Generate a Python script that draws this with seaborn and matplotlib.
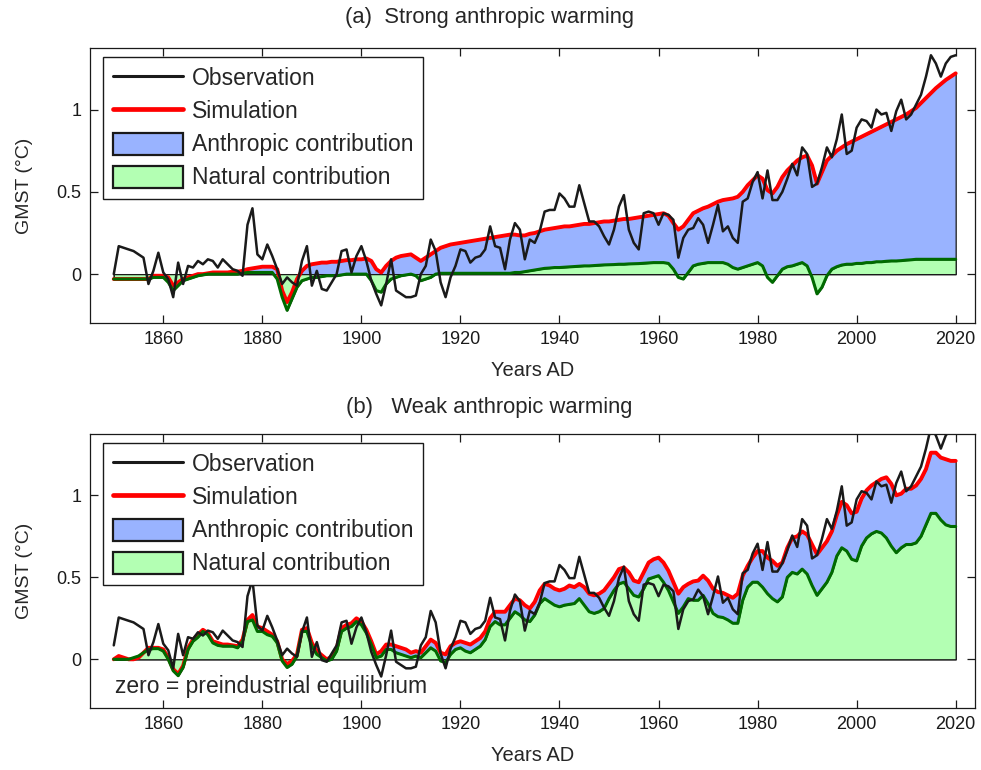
import numpy as np
import pandas as pd
import matplotlib
matplotlib.use("Agg")
import matplotlib.pyplot as plt
import seaborn as sns
from matplotlib.patches import Patch
from matplotlib.lines import Line2D

# ---------------- data ----------------
start_year = 1850
obs_a = [
    0.00, 0.17, 0.16, 0.15, 0.14, 0.12, 0.10, -0.06, 0.02, 0.13,
    0.01, -0.03, -0.14, 0.07, -0.06, 0.05, 0.04, 0.08, 0.06, 0.09,
    0.08, 0.04, 0.09, 0.06, 0.03, 0.02, -0.01, 0.30, 0.40, 0.12,
    0.09, 0.18, 0.11, 0.03, -0.06, -0.02, -0.05, -0.07, 0.08, 0.17,
    -0.07, 0.02, -0.09, -0.10, -0.05, 0.00, 0.14, 0.15, 0.01, 0.11,
    0.17, 0.08, -0.04, -0.12, -0.19, -0.06, 0.09, -0.10, -0.12, -0.14,
    -0.14, -0.13, 0.00, 0.05, 0.21, 0.14, -0.05, -0.14, -0.02, 0.05,
    0.15, 0.14, 0.07, 0.10, 0.11, 0.15, 0.29, 0.17, 0.16, 0.03,
    0.21, 0.31, 0.27, 0.09, 0.21, 0.19, 0.26, 0.38, 0.39, 0.39,
    0.49, 0.46, 0.41, 0.41, 0.54, 0.43, 0.32, 0.32, 0.29, 0.23,
    0.18, 0.27, 0.41, 0.48, 0.27, 0.19, 0.15, 0.37, 0.38, 0.37,
    0.30, 0.37, 0.36, 0.33, 0.10, 0.22, 0.27, 0.28, 0.34, 0.30,
    0.19, 0.30, 0.42, 0.26, 0.29, 0.22, 0.19, 0.44, 0.46, 0.56,
    0.62, 0.46, 0.63, 0.45, 0.45, 0.50, 0.58, 0.67, 0.60, 0.77,
    0.73, 0.53, 0.55, 0.65, 0.77, 0.71, 0.82, 0.97, 0.73, 0.75,
    0.89, 0.94, 0.93, 0.89, 1.00, 0.97, 0.98, 0.87, 0.99, 1.06,
    0.94, 0.97, 1.03, 1.09, 1.20, 1.33, 1.28, 1.20, 1.28, 1.32,
    1.33,
]
# panel (b) shows the same observations on a baseline shifted upward
obs_b_shift = 0.085

sim_a = [
    -0.03, -0.03, -0.03, -0.03, -0.03, -0.03, -0.03, -0.03, -0.01, -0.01,
    -0.01, -0.02, -0.07, -0.05, -0.03, -0.02, -0.01, 0.00, 0.00, 0.005,
    0.01, 0.01, 0.01, 0.01, 0.015, 0.015, 0.02, 0.03, 0.035, 0.04,
    0.045, 0.045, 0.045, 0.03, -0.10, -0.17, -0.11, -0.03, 0.02, 0.05,
    0.06, 0.065, 0.07, 0.07, 0.075, 0.075, 0.08, 0.085, 0.085, 0.09,
    0.09, 0.095, 0.08, 0.03, 0.01, 0.05, 0.08, 0.10, 0.11, 0.115,
    0.12, 0.10, 0.08, 0.10, 0.12, 0.14, 0.16, 0.17, 0.18, 0.185,
    0.19, 0.195, 0.20, 0.205, 0.21, 0.215, 0.22, 0.225, 0.23, 0.235,
    0.24, 0.24, 0.235, 0.235, 0.245, 0.25, 0.26, 0.27, 0.275, 0.28,
    0.285, 0.29, 0.29, 0.295, 0.30, 0.305, 0.305, 0.31, 0.315, 0.32,
    0.32, 0.325, 0.33, 0.335, 0.335, 0.34, 0.345, 0.35, 0.355, 0.36,
    0.365, 0.37, 0.355, 0.31, 0.27, 0.29, 0.33, 0.37, 0.385, 0.40,
    0.41, 0.425, 0.44, 0.45, 0.455, 0.46, 0.47, 0.50, 0.54, 0.57,
    0.60, 0.58, 0.51, 0.49, 0.53, 0.59, 0.63, 0.66, 0.69, 0.71,
    0.72, 0.66, 0.55, 0.62, 0.69, 0.72, 0.75, 0.77, 0.79, 0.805,
    0.82, 0.835, 0.85, 0.865, 0.88, 0.895, 0.91, 0.925, 0.94, 0.955,
    0.97, 0.99, 1.01, 1.04, 1.07, 1.10, 1.13, 1.155, 1.18, 1.20,
    1.22,
]
nat_a = [
    -0.03, -0.03, -0.03, -0.03, -0.03, -0.03, -0.03, -0.03, -0.02, -0.02,
    -0.02, -0.05, -0.10, -0.07, -0.04, -0.03, -0.02, -0.01, -0.005, 0.00,
    0.00, 0.00, 0.00, 0.00, 0.00, 0.00, 0.005, 0.01, 0.01, 0.01,
    0.01, 0.01, 0.01, -0.03, -0.14, -0.22, -0.15, -0.08, -0.04, -0.03,
    -0.02, -0.02, -0.015, -0.01, -0.01, -0.01, -0.005, 0.00, 0.00, 0.00,
    0.00, 0.00, -0.04, -0.10, -0.11, -0.06, -0.03, -0.02, -0.01, -0.005,
    0.00, -0.01, -0.04, -0.03, -0.02, 0.00, 0.005, 0.005, 0.005, 0.005,
    0.005, 0.005, 0.005, 0.005, 0.005, 0.005, 0.005, 0.005, 0.005, 0.005,
    0.005, 0.01, 0.01, 0.015, 0.02, 0.025, 0.03, 0.035, 0.037, 0.04,
    0.04, 0.042, 0.044, 0.046, 0.048, 0.05, 0.05, 0.052, 0.054, 0.056,
    0.057, 0.058, 0.06, 0.06, 0.062, 0.063, 0.064, 0.066, 0.068, 0.07,
    0.07, 0.07, 0.065, 0.03, -0.02, -0.03, 0.01, 0.05, 0.06, 0.065,
    0.07, 0.07, 0.07, 0.07, 0.06, 0.04, 0.03, 0.04, 0.05, 0.06,
    0.07, 0.05, -0.02, -0.05, -0.01, 0.03, 0.045, 0.05, 0.06, 0.07,
    0.05, -0.02, -0.12, -0.08, -0.01, 0.03, 0.045, 0.055, 0.06, 0.06,
    0.065, 0.065, 0.07, 0.07, 0.075, 0.075, 0.078, 0.08, 0.08, 0.082,
    0.085, 0.087, 0.09, 0.09, 0.09, 0.09, 0.09, 0.09, 0.09, 0.09,
    0.09,
]
sim_b = [
    0.00, 0.02, 0.01, 0.00, 0.00, 0.01, 0.04, 0.07, 0.07, 0.07,
    0.06, 0.01, -0.06, -0.09, -0.04, 0.07, 0.12, 0.15, 0.18, 0.16,
    0.11, 0.10, 0.09, 0.09, 0.085, 0.08, 0.12, 0.24, 0.27, 0.20,
    0.19, 0.17, 0.15, 0.11, 0.00, -0.03, -0.01, 0.03, 0.18, 0.19,
    0.10, 0.05, 0.025, 0.00, 0.015, 0.065, 0.19, 0.21, 0.22, 0.25,
    0.23, 0.18, 0.11, 0.03, 0.05, 0.09, 0.09, 0.08, 0.07, 0.06,
    0.04, 0.05, 0.04, 0.08, 0.12, 0.10, 0.04, 0.03, 0.08, 0.10,
    0.11, 0.10, 0.09, 0.11, 0.13, 0.17, 0.25, 0.29, 0.29, 0.29,
    0.33, 0.37, 0.36, 0.33, 0.31, 0.35, 0.42, 0.46, 0.45, 0.43,
    0.42, 0.43, 0.45, 0.44, 0.46, 0.44, 0.40, 0.39, 0.40, 0.42,
    0.46, 0.50, 0.55, 0.56, 0.53, 0.48, 0.47, 0.53, 0.59, 0.61,
    0.62, 0.59, 0.54, 0.47, 0.40, 0.44, 0.46, 0.475, 0.48, 0.51,
    0.48, 0.43, 0.41, 0.405, 0.39, 0.375, 0.40, 0.51, 0.57, 0.62,
    0.66, 0.66, 0.62, 0.60, 0.57, 0.59, 0.68, 0.74, 0.75, 0.78,
    0.76, 0.70, 0.64, 0.68, 0.72, 0.78, 0.88, 0.96, 0.94, 0.89,
    0.90, 0.98, 1.03, 1.06, 1.08, 1.10, 1.11, 1.07, 1.00, 1.01,
    1.04, 1.04, 1.06, 1.10, 1.16, 1.26, 1.26, 1.23, 1.22, 1.21,
    1.21,
]
nat_b = [
    0.00, 0.00, 0.00, 0.00, 0.01, 0.02, 0.04, 0.06, 0.065, 0.065,
    0.05, 0.00, -0.07, -0.10, -0.05, 0.06, 0.11, 0.135, 0.17, 0.15,
    0.10, 0.085, 0.08, 0.08, 0.08, 0.07, 0.11, 0.23, 0.24, 0.17,
    0.17, 0.15, 0.14, 0.10, -0.01, -0.05, -0.03, 0.02, 0.17, 0.17,
    0.08, 0.03, 0.01, -0.01, 0.00, 0.05, 0.17, 0.19, 0.20, 0.23,
    0.21, 0.16, 0.09, 0.01, 0.02, 0.06, 0.06, 0.04, 0.03, 0.02,
    0.01, 0.02, 0.01, 0.04, 0.07, 0.05, -0.01, -0.02, 0.03, 0.06,
    0.07, 0.05, 0.04, 0.06, 0.08, 0.12, 0.20, 0.23, 0.21, 0.21,
    0.25, 0.29, 0.27, 0.24, 0.23, 0.27, 0.34, 0.37, 0.35, 0.33,
    0.32, 0.33, 0.335, 0.34, 0.37, 0.33, 0.29, 0.28, 0.29, 0.31,
    0.37, 0.42, 0.46, 0.47, 0.43, 0.39, 0.38, 0.43, 0.49, 0.50,
    0.51, 0.47, 0.42, 0.35, 0.28, 0.32, 0.37, 0.36, 0.36, 0.39,
    0.34, 0.28, 0.26, 0.255, 0.24, 0.22, 0.22, 0.36, 0.44, 0.47,
    0.47, 0.44, 0.40, 0.37, 0.35, 0.38, 0.50, 0.53, 0.52, 0.55,
    0.52, 0.45, 0.39, 0.43, 0.47, 0.53, 0.63, 0.68, 0.66, 0.61,
    0.60, 0.69, 0.74, 0.765, 0.78, 0.77, 0.74, 0.69, 0.65, 0.68,
    0.70, 0.70, 0.71, 0.75, 0.82, 0.89, 0.89, 0.85, 0.82, 0.81,
    0.81,
]

x_ticks = [1860, 1880, 1900, 1920, 1940, 1960, 1980, 2000, 2020]
y_ticks = [0, 0.5, 1]
y_tick_labels = ["0", "0.5", "1"]
titles = ["(a)  Strong anthropic warming", "(b)   Weak anthropic warming"]
legend_labels = ["Observation", "Simulation", "Anthropic contribution", "Natural contribution"]

# ---------------- style ----------------
sns.set_theme(style="ticks")
plt.rcParams["font.family"] = ["Liberation Sans", "DejaVu Sans"]

BLUE = "#99b3ff"
GREEN = "#b3ffb3"
DKGREEN = "#006a00"
RED = "#ff0000"

W, H = 981, 770
fig = plt.figure(figsize=(W / 100, H / 100), dpi=100)
fig.patch.set_facecolor("white")


def ax_rect(left, top, right, bottom):
    return [left / W, 1 - bottom / H, (right - left) / W, (bottom - top) / H]


ax_a = fig.add_axes(ax_rect(90, 48, 975, 323))
ax_b = fig.add_axes(ax_rect(90, 434, 975, 708))

years = np.arange(start_year, start_year + len(obs_a))
df_a = pd.DataFrame({"year": years, "obs": obs_a, "sim": sim_a, "nat": nat_a})
df_b = pd.DataFrame({"year": years, "obs": np.array(obs_a) + obs_b_shift,
                     "sim": sim_b, "nat": nat_b})

for ax, df, title, ty in [(ax_a, df_a, titles[0], 18), (ax_b, df_b, titles[1], 408)]:
    ax.set_facecolor("white")
    ax.fill_between(df["year"], 0, df["sim"], facecolor=BLUE, edgecolor="k",
                    linewidth=0.9, zorder=1)
    ax.fill_between(df["year"], 0, df["nat"], facecolor=GREEN, edgecolor="k",
                    linewidth=0.9, zorder=1.5)
    sns.lineplot(data=df, x="year", y="sim", ax=ax, color=RED, linewidth=2.8,
                 zorder=3, legend=False)
    sns.lineplot(data=df, x="year", y="nat", ax=ax, color=DKGREEN, linewidth=2.2,
                 zorder=4, legend=False)
    sns.lineplot(data=df, x="year", y="obs", ax=ax, color="k", linewidth=1.8,
                 zorder=5, legend=False)

    ax.set_xlim(1845.2, 2023.9)
    ax.set_ylim(-0.297, 1.374)
    ax.set_xticks(x_ticks)
    ax.set_xticklabels([str(t) for t in x_ticks])
    ax.set_yticks(y_ticks)
    ax.set_yticklabels(y_tick_labels)
    ax.tick_params(direction="in", top=True, right=True, length=6, width=0.9,
                   labelsize=13, colors="k", pad=6)
    for s in ax.spines.values():
        s.set_color("k")
        s.set_linewidth(0.9)
        s.set_visible(True)
    ax.set_xlabel("Years AD", fontsize=14.5, labelpad=9)
    ax.set_ylabel("GMST (°C)", fontsize=14, labelpad=17)
    fig.text(0.499, 1 - ty / H, title, ha="center", va="center", fontsize=15.8)

    handles = [
        Line2D([], [], color="k", linewidth=2.2),
        Line2D([], [], color=RED, linewidth=3.4),
        Patch(facecolor=BLUE, edgecolor="k", linewidth=1.6),
        Patch(facecolor=GREEN, edgecolor="k", linewidth=1.6),
    ]
    leg = ax.legend(handles, legend_labels, loc="upper left",
                    bbox_to_anchor=(0.0147, 0.967), borderaxespad=0,
                    fontsize=16.5, frameon=True, fancybox=False,
                    handlelength=3.05, handleheight=1.1, handletextpad=0.4,
                    labelspacing=0.4, borderpad=0.42)
    leg.get_frame().set_edgecolor("k")
    leg.get_frame().set_linewidth(1.0)
    leg.get_frame().set_alpha(1)
    leg.set_zorder(10)

ax_b.text(0.028, 0.077, "zero = preindustrial equilibrium", transform=ax_b.transAxes,
          ha="left", va="center", fontsize=16.5, zorder=6)

fig.savefig("out.png", dpi=100)
